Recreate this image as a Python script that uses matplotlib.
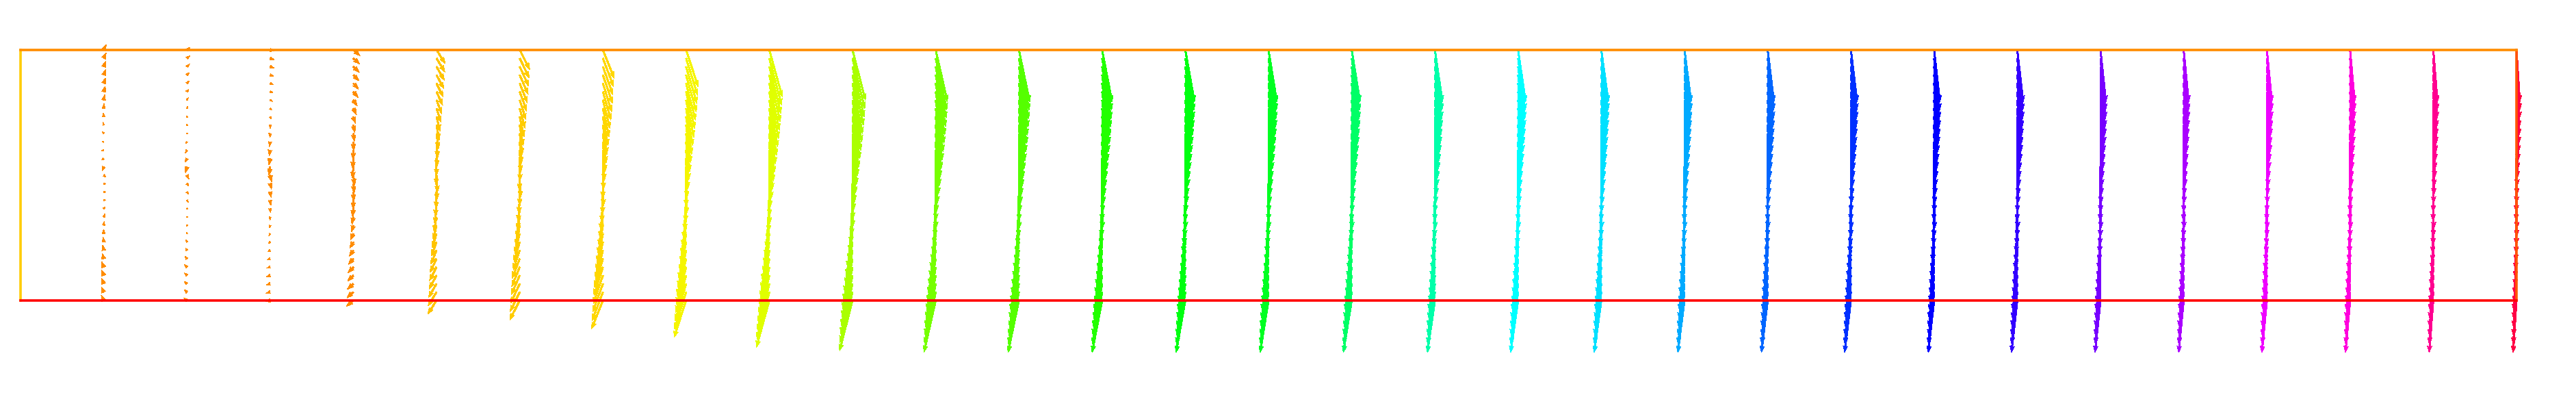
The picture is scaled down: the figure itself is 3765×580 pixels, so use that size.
import numpy as np
import matplotlib
matplotlib.use('Agg')
import matplotlib.pyplot as plt

# grid of the arrows
x_cols = list(range(1, 31))
y_rows = list(range(30, -1, -1))   # top row first

# how far the arrows of each column reach downwards (y units)
col_drop = [0.05, 0.3, 0.65, 1.1, 1.95, 2.6, 3.6, 4.6, 5.75, 6.15,
            6.3, 6.35, 6.35, 6.35, 6.35, 6.35, 6.35, 6.35, 6.35, 6.35,
            6.35, 6.35, 6.35, 6.35, 6.35, 6.35, 6.35, 6.35, 6.35, 6.35]

# sideways swing of each column (x units)
col_swing = [0.03, 0.035, 0.05, 0.08, 0.105, 0.12, 0.135, 0.145, 0.155, 0.155,
             0.14, 0.13, 0.12, 0.11, 0.1, 0.1, 0.09, 0.09, 0.085, 0.08,
             0.075, 0.075, 0.07, 0.07, 0.065, 0.06, 0.06, 0.055, 0.05, 0.04]

# lean of each row, +1 = to the right, top row first
row_lean = [1.0, 0.95, 0.9, 0.85, 0.78, 0.72, 0.65, 0.58, 0.5, 0.42,
            0.35, 0.27, 0.2, 0.12, 0.05, -0.02, -0.1, -0.17, -0.25, -0.32,
            -0.4, -0.47, -0.55, -0.62, -0.68, -0.75, -0.8, -0.86, -0.91, -0.96, -1.0]

# heading of the tiny arrows in the first columns (degrees), top row first
row_heading = [90, 90, 90, 90, 92, 95, 105, 118, 132, 147,
               158, 170, 180, 192, 220, 345, 360, 362, 368, 380,
               395, 405, 415, 425, 435, 445, 450, 450, 450, 450, 450]

col_colors = ['#ff8c00', '#ff8c00', '#ff8c00', '#ff8c00', '#ffc400', '#ffcc00',
              '#ffd700', '#f5f500', '#e0ff00', '#aaff00', '#77ff00', '#55ff00',
              '#22ff00', '#00ff11', '#00ff22', '#00ff66', '#00ffaa', '#00ffff',
              '#00e0ff', '#00aaff', '#0066ff', '#0030ff', '#0000ff', '#3300ff',
              '#7700ff', '#aa00ff', '#ee00ff', '#ff00dd', '#ff0090', '#ff0044']

fig = plt.figure(figsize=(37.66, 5.8), dpi=100)
ax = fig.add_axes([30 / 3766, 1 - 439 / 580, 3648 / 3766, 366 / 580])

heading = np.radians(row_heading)
lean = np.array(row_lean)

for i, xc in enumerate(x_cols):
    small = 1 / (1 + 0.6 * col_drop[i])   # tiny heading only shows where arrows are short
    u = col_swing[i] * lean + 0.03 * small * np.cos(heading)
    v = -col_drop[i] + 0.7 * small * np.sin(heading)
    ax.quiver(np.full(len(y_rows), xc), y_rows, u, v, color=col_colors[i],
              angles='xy', scale_units='xy', scale=1, units='dots', width=2.0,
              headwidth=3.2, headlength=4.5, headaxislength=4.0, pivot='tail',
              antialiased=False, clip_on=False)

ax.set_xlim(0, 30)
ax.set_ylim(0, 30)
ax.set_xticks([])
ax.set_yticks([])

spine_cols = {'left': '#ffcc00', 'top': '#ff8c00', 'bottom': '#ff0000', 'right': '#ff5500'}
for side, c in spine_cols.items():
    ax.spines[side].set_color(c)
    ax.spines[side].set_linewidth(2.6)
    ax.spines[side].set_zorder(5)

fig.savefig('out.png', dpi=100)
